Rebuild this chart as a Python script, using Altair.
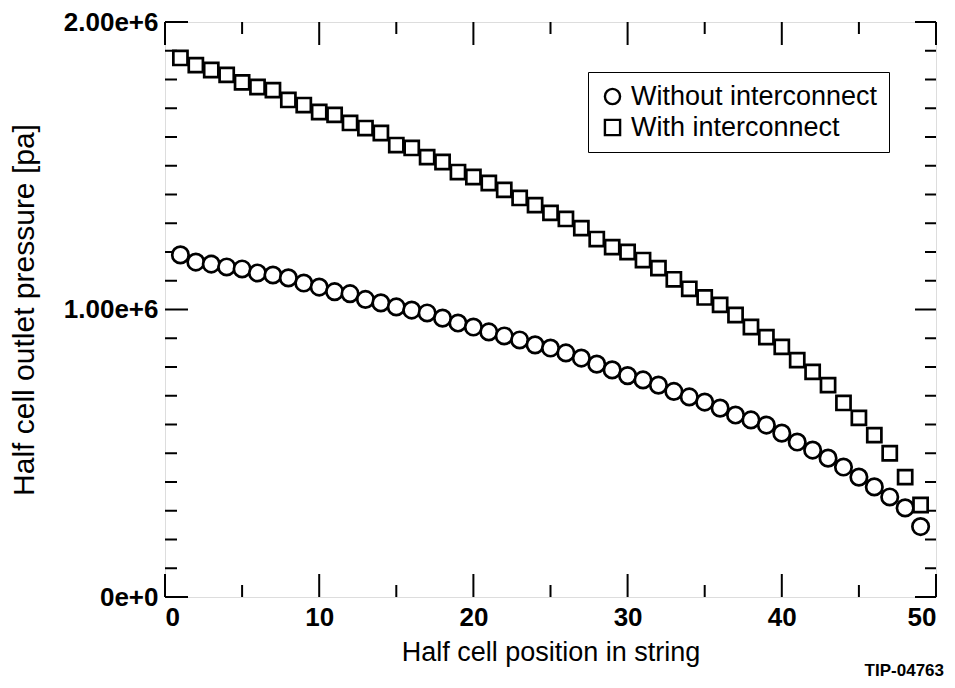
import altair as alt
import pandas as pd

positions = list(range(1, 50))
without_interconnect = [1.19, 1.165, 1.158, 1.148, 1.141, 1.127, 1.12, 1.11, 1.092, 1.078,
                        1.062, 1.055, 1.035, 1.023, 1.009, 0.998, 0.988, 0.97, 0.953, 0.939,
                        0.922, 0.908, 0.894, 0.877, 0.866, 0.849, 0.831, 0.81, 0.79, 0.77,
                        0.755, 0.737, 0.715, 0.696, 0.678, 0.657, 0.633, 0.616, 0.598, 0.57,
                        0.539, 0.511, 0.483, 0.452, 0.417, 0.383, 0.348, 0.31, 0.245]
with_interconnect = [1.875, 1.85, 1.833, 1.816, 1.79, 1.774, 1.763, 1.729, 1.711, 1.687,
                     1.677, 1.649, 1.631, 1.614, 1.572, 1.562, 1.53, 1.513, 1.478, 1.461,
                     1.44, 1.416, 1.388, 1.363, 1.336, 1.315, 1.283, 1.245, 1.217, 1.2,
                     1.172, 1.144, 1.105, 1.072, 1.042, 1.016, 0.981, 0.939, 0.904, 0.87,
                     0.824, 0.783, 0.737, 0.675, 0.623, 0.563, 0.5, 0.417, 0.32]
series_names = ["Without interconnect", "With interconnect"]
series_shapes = ["circle", "square"]
series_sizes = [270, 200]

x_major_ticks = [0, 10, 20, 30, 40, 50]
x_minor_ticks = [5, 15, 25, 35, 45]
y_major_ticks = [0, 1e6, 2e6]
y_minor_ticks = [k * 1e5 for k in range(1, 20) if k != 10]

W, H = 771, 575
FONT = "Liberation Sans"

xscale = alt.Scale(domain=[0, 50], nice=False, zero=False)
yscale = alt.Scale(domain=[0, 2e6], nice=False, zero=False)

x_axis = alt.Axis(values=x_major_ticks, ticks=False, domain=False, grid=False,
                  labelFont=FONT, labelFontSize=26, labelFontWeight="bold",
                  labelColor="black", labelPadding=7,
                  title="Half cell position in string", titleFont=FONT,
                  titleFontSize=27, titleFontWeight="normal", titleColor="black",
                  titlePadding=9)
y_axis = alt.Axis(values=y_major_ticks, ticks=False, domain=False, grid=False,
                  labelExpr="datum.value == 0 ? '0e+0' : format(datum.value / 1e6, '.2f') + 'e+6'",
                  labelFont=FONT, labelFontSize=26, labelFontWeight="bold",
                  labelColor="black", labelPadding=7,
                  title="Half cell outlet pressure [pa]", titleFont=FONT,
                  titleFontSize=30, titleFontWeight="normal", titleColor="black",
                  titlePadding=24)
legend = alt.Legend(title=None, orient="none", legendX=423, legendY=50,
                    labelFont=FONT, labelFontSize=27, labelColor="black",
                    labelLimit=500, symbolSize=230, symbolStrokeWidth=2.4,
                    strokeColor="black",
                    padding=11, rowPadding=3, labelOffset=5)


def series_layer(idx, values):
    d = pd.DataFrame({"pos": positions, "pressure": [v * 1e6 for v in values],
                      "series": series_names[idx]})
    return alt.Chart(d).mark_point(
        filled=False, fill="white", fillOpacity=1, strokeWidth=2.7,
        opacity=1, size=series_sizes[idx]
    ).encode(
        x=alt.X("pos:Q", scale=xscale, axis=x_axis),
        y=alt.Y("pressure:Q", scale=yscale, axis=y_axis),
        color=alt.value("black"),
        shape=alt.Shape("series:N", scale=alt.Scale(domain=series_names, range=series_shapes),
                        sort=series_names, legend=legend),
        order=alt.Order("pos:Q"),
    )


def tick_layer(values, channel, length, side):
    d = pd.DataFrame({"v": values})
    base = alt.Chart(d).mark_rule(color="black", strokeWidth=2)
    if channel == "y":
        if side == "left":
            enc = dict(x=alt.value(0), x2=alt.value(length))
        else:
            enc = dict(x=alt.value(W), x2=alt.value(W - length))
        return base.encode(y=alt.Y("v:Q", scale=yscale), **enc)
    else:
        if side == "bottom":
            enc = dict(y=alt.value(H), y2=alt.value(H - length))
        else:
            enc = dict(y=alt.value(0), y2=alt.value(length))
        return base.encode(x=alt.X("v:Q", scale=xscale), **enc)


ticks = [
    tick_layer(y_major_ticks, "y", 23, "left"),
    tick_layer(y_minor_ticks, "y", 12, "left"),
    tick_layer(y_major_ticks, "y", 21, "right"),
    tick_layer(y_minor_ticks, "y", 11, "right"),
    tick_layer(x_major_ticks, "x", 23, "bottom"),
    tick_layer(x_minor_ticks, "x", 12, "bottom"),
    tick_layer(x_major_ticks, "x", 23, "top"),
    tick_layer(x_minor_ticks, "x", 12, "top"),
]

chart = alt.layer(*ticks, series_layer(0, without_interconnect),
                  series_layer(1, with_interconnect)).properties(
    width=W, height=H,
    padding={"left": 157, "top": 14, "right": 11, "bottom": 88},
    autosize=alt.AutoSizeParams(type="none"),
    title=alt.TitleParams("TIP-04763", orient="bottom", anchor="end", font=FONT,
                          fontSize=17, fontWeight="bold", color="black", offset=-2, dx=7),
).configure_view(stroke="black", strokeWidth=2.7).configure(background="white")

chart.save("out.html", embed_options={"renderer": "svg", "actions": False})
